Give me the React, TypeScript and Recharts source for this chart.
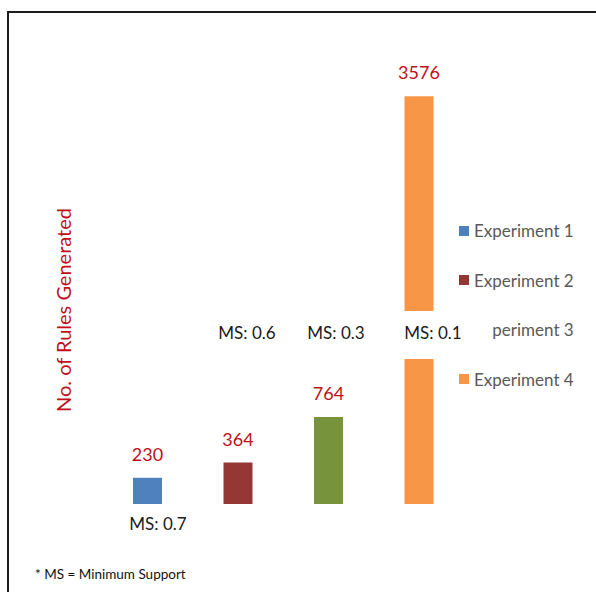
import { Bar, BarChart, LabelList, Legend, XAxis, YAxis } from "recharts";

const categories = ["Rules"];
const seriesNames = ["Experiment 1", "Experiment 2", "Experiment 3", "Experiment 4"];
const seriesValues = [230, 364, 764, 3576];
const seriesColors = ["#4F81BD", "#953735", "#77933C", "#F79646"];
const supportLabels = ["MS: 0.7", "MS: 0.6", "MS: 0.3", "MS: 0.1"];

const data = categories.map((name) => {
  const row: Record<string, string | number> = { name };
  seriesNames.forEach((s, i) => {
    row[s] = seriesValues[i];
  });
  return row;
});

const FONT = "Lato, 'Open Sans', sans-serif";

function LegendRows({ payload }: any) {
  return (
    <div style={{ fontFamily: FONT }}>
      {(payload || []).map((p: any) => (
        <div
          key={p.value}
          style={{ height: 49.5, display: "flex", alignItems: "center" }}
        >
          <span
            style={{ width: 10, height: 10, background: p.color, marginRight: 5 }}
          />
          <span style={{ fontSize: 17, color: "#595959" }}>{p.value}</span>
        </div>
      ))}
    </div>
  );
}

export default function App() {
  return (
    <div
      style={{
        position: "absolute",
        left: 0,
        top: 0,
        width: 596,
        height: 592,
        overflow: "hidden",
        background: "#fff",
        fontFamily: FONT,
      }}
    >
      <div
        style={{
          position: "absolute",
          left: 7,
          top: 11,
          width: 700,
          height: 700,
          border: "2px solid #1c1c1c",
        }}
      />
      <BarChart
        width={596}
        height={592}
        data={data}
        barSize={29}
        barGap={61.5}
        margin={{ top: 48, right: 131, bottom: 88, left: 101 }}
        style={{ position: "absolute", left: 0, top: 0 }}
      >
        <XAxis dataKey="name" hide />
        <YAxis hide domain={[0, 4000]} />
        <Legend
          layout="vertical"
          align="center"
          verticalAlign="middle"
          content={<LegendRows />}
          wrapperStyle={{ left: 459, top: 206, width: 137 }}
        />
        {seriesNames.map((s, i) => (
          <Bar key={s} dataKey={s} fill={seriesColors[i]} isAnimationActive={false}>
            <LabelList
              dataKey={s}
              position="top"
              offset={17}
              fill="#C0101A"
              fontSize={18}
              fontFamily={FONT}
            />
          </Bar>
        ))}
      </BarChart>
      {/* MS text box laid over the chart */}
      <div
        style={{
          position: "absolute",
          left: 205,
          top: 311,
          width: 287,
          height: 48,
          background: "#fff",
          color: "#1a1a1a",
          fontSize: 17,
        }}
      >
        {supportLabels.slice(1).map((t, i) => (
          <span
            key={t}
            style={{
              position: "absolute",
              left: [42, 131, 228][i] - 35,
              top: 11,
              width: 70,
              textAlign: "center",
            }}
          >
            {t}
          </span>
        ))}
      </div>
      <div
        style={{
          position: "absolute",
          left: 123,
          top: 513,
          width: 70,
          textAlign: "center",
          fontSize: 17,
          color: "#1a1a1a",
        }}
      >
        {supportLabels[0]}
      </div>
      <div
        style={{
          position: "absolute",
          left: 63 - 120,
          top: 310 - 13,
          width: 240,
          height: 26,
          lineHeight: "26px",
          textAlign: "center",
          transform: "rotate(-90deg)",
          color: "#C0101A",
          fontSize: 20,
        }}
      >
        No. of Rules Generated
      </div>
      <div
        style={{
          position: "absolute",
          left: 35,
          top: 566,
          fontSize: 13.5,
          color: "#111",
        }}
      >
        * MS = Minimum Support
      </div>
    </div>
  );
}
